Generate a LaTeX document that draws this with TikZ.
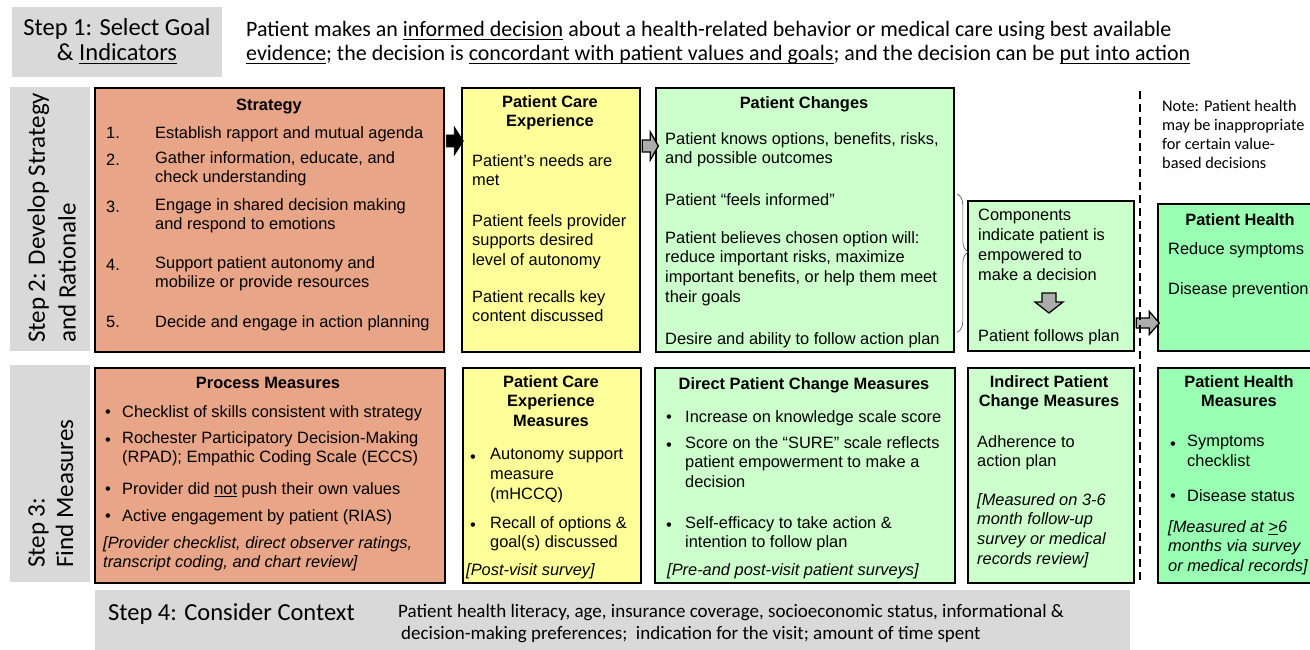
\documentclass[tikz,border=0pt]{standalone}
\usepackage{fontspec}
\setmainfont{Liberation Sans}
\newfontfamily\calfont{Carlito}
\usetikzlibrary{calc,decorations.pathreplacing}

\definecolor{stratfill}{RGB}{233,165,135}
\definecolor{carefill}{RGB}{255,255,153}
\definecolor{changefill}{RGB}{204,255,204}
\definecolor{healthfill}{RGB}{153,255,178}
\definecolor{stepgray}{RGB}{217,217,217}
\definecolor{arrowgray}{RGB}{172,172,172}

\newcommand\boxfont{\fontsize{16.4}{19.8}\selectfont}
\newcommand\steptitlefont{\calfont\fontsize{24.5}{25}\selectfont}
\newcommand\goalfont{\calfont\fontsize{21.95}{24}\selectfont}
\newcommand\notefont{\calfont\fontsize{16.3}{19}\selectfont}
\newcommand\ctxfont{\calfont\fontsize{19}{22}\selectfont}

% underline at a fixed depth below the baseline
\newsavebox\ulbox
\newcommand\ulx[1]{\sbox\ulbox{#1}\leavevmode\rlap{\rule[-0.15em]{\wd\ulbox}{0.065em}}\usebox\ulbox}

% horizontal block arrow: style, tail centre, half shaft, half head, shaft length, head length
\newcommand\rblock[6]{\draw[#1] (#2) ++(0,-#3) -- ++(#5,0) -- ++(0,{#3-#4}) -- ++(#6,#4) -- ++(-#6,#4) -- ++(0,{#3-#4}) -- ++(-#5,0) -- cycle;}
% downward block arrow: style, tail centre, half shaft, half head, shaft length, head length
\newcommand\dblock[6]{\draw[#1] (#2) ++(-#3,0) -- ++(0,#5) -- ++({#3-#4},0) -- ++(#4,#6) -- ++(#4,-#6) -- ++({#3-#4},0) -- ++(0,-#5) -- cycle;}

\begin{document}
\begin{tikzpicture}[x=1pt,y=-1pt,
  box/.style={draw=black, line width=2.3pt, anchor=north west, inner sep=0pt},
  stepbg/.style={fill=stepgray, draw=none, anchor=north west, inner sep=0pt},
  para/.style={anchor=north west, inner sep=0pt, align=left, font=\boxfont, execute at begin node=\strut, yshift=11.9pt},
  ipara/.style={para, font=\boxfont\itshape},
  ttl/.style={anchor=north, inner sep=0pt, align=center, font=\boxfont\bfseries, execute at begin node=\strut, yshift=12.9pt},
  steprot/.style={rotate=90, anchor=base west, inner sep=0pt, font=\calfont\fontsize{25}{30}\selectfont},
  gblock/.style={fill=arrowgray, draw=black, line width=1.3pt, line join=miter},
  kblock/.style={fill=black, draw=black, line width=0.8pt, line join=miter},
  bracestyle/.style={decorate, decoration={brace, amplitude=11pt, aspect=0.42}, draw=black!70, line width=0.6pt},
  divider/.style={draw=black, line width=2pt, dash pattern=on 8pt off 5pt}
]
\path[use as bounding box] (0,0) rectangle (1310,650);

% ---------- step labels ----------
\node[stepbg, minimum width=210pt, minimum height=70pt] (s1) at (12,7) {};
\node[stepbg, minimum width=80pt, minimum height=264pt] (s2) at (10,87) {};
\node[stepbg, minimum width=80pt, minimum height=217pt] (s3) at (10,365) {};
\node[stepbg, minimum width=1035pt, minimum height=62pt] (s4) at (95,590) {};

\node[anchor=north, inner sep=0pt, align=center, font=\steptitlefont, execute at begin node=\strut, yshift=17.5pt] (s1t) at (117,36) {Step 1: Select Goal\\\& \ulx{Indicators}};
\node[anchor=north west, inner sep=0pt, align=left, font=\goalfont, execute at begin node=\strut, yshift=15.8pt] (goal) at (246,37)
  {Patient makes an \ulx{informed decision} about a health-related behavior or medical care using best available\\\ulx{evidence}; the decision is \ulx{concordant with patient values and goals}; and the decision can be \ulx{put into action}};

\node[steprot] (s2a) at (45,343) {Step 2: Develop Strategy};
\node[steprot] (s2b) at (75.5,343) {and Rationale};
\node[steprot] (s3a) at (44.5,568) {Step 3:};
\node[steprot] (s3b) at (73,568) {Find Measures};

\node[anchor=base west, inner sep=0pt, font=\calfont\fontsize{24.5}{27}\selectfont] (s4t) at (108,620) {Step 4: Consider Context};
\node[anchor=north west, inner sep=0pt, align=left, font=\ctxfont, execute at begin node=\strut, yshift=15.4pt] (ctx) at (398,620)
  {Patient health literacy, age, insurance coverage, socioeconomic status, informational \&\\\hspace*{3pt}decision-making preferences;\ \ indication for the visit; amount of time spent};

% ---------- boxes ----------
\node[box, fill=stratfill, minimum width=349pt, minimum height=264pt] (strategy) at (94,87) {};
\node[box, fill=carefill, minimum width=178pt, minimum height=264pt] (pce) at (461,87) {};
\node[box, fill=changefill, minimum width=298pt, minimum height=264pt] (changes) at (655,87) {};
\node[box, fill=changefill, minimum width=166pt, minimum height=150pt] (comp) at (967,200) {};
\node[box, fill=healthfill, minimum width=175pt, minimum height=147pt] (health) at (1157,203) {};

\node[box, fill=stratfill, minimum width=350pt, minimum height=215pt] (process) at (94,367) {};
\node[box, fill=carefill, minimum width=178pt, minimum height=215pt] (pcem) at (462,367) {};
\node[box, fill=changefill, minimum width=300pt, minimum height=215pt] (direct) at (654,367) {};
\node[box, fill=changefill, minimum width=166pt, minimum height=215pt] (indirect) at (967,367) {};
\node[box, fill=healthfill, minimum width=175pt, minimum height=215pt] (healthm) at (1157,367) {};

% ---------- strategy ----------
\node[ttl] (strt) at (269,109) {Strategy};
\node[para] (n1) at (106,136) {1.};
\node[para] (t1) at (155,136) {Establish rapport and mutual agenda};
\node[para] (n2) at (106,163) {2.};
\node[para] (t2) at (155,163) {Gather information, educate, and\\check understanding};
\node[para] (n3) at (106,210) {3.};
\node[para] (t3) at (155,210) {Engage in shared decision making\\and respond to emotions};
\node[para] (n4) at (106,268) {4.};
\node[para] (t4) at (155,268) {Support patient autonomy and\\mobilize or provide resources};
\node[para] (n5) at (106,325) {5.};
\node[para] (t5) at (155,325) {Decide and engage in action planning};

% ---------- patient care experience ----------
\node[ttl] (pcet) at (550,108) {Patient Care\\Experience};
\node[para] (pce1) at (472,166) {Patient’s needs are\\met};
\node[para] (pce2) at (472,226) {Patient feels provider\\supports desired\\level of autonomy};
\node[para] (pce3) at (472,302) {Patient recalls key\\content discussed};

% ---------- patient changes ----------
\node[ttl] (cht) at (804,107) {Patient Changes};
\node[para] (ch1) at (665,144) {Patient knows options, benefits, risks,\\and possible outcomes};
\node[para] (ch2) at (665,203) {Patient “feels informed”};
\node[para] (ch3) at (665,243) {Patient believes chosen option will:\\reduce important risks, maximize\\important benefits, or help them meet\\their goals};
\node[para] (ch4) at (665,342) {Desire and ability to follow action plan};

% ---------- components ----------
\node[para] (cp1) at (978,221) {Components\\indicate patient is\\empowered to\\make a decision};
\node[para] (cp2) at (978,339) {Patient follows plan};

% ---------- patient health ----------
\node[ttl] (pht) at (1240,224) {Patient Health};
\node[para] (ph1) at (1168,252) {Reduce symptoms};
\node[para] (ph2) at (1168,292) {Disease prevention};

\node[anchor=north west, inner sep=0pt, align=left, font=\notefont, execute at begin node=\strut, yshift=11.5pt] (note) at (1162,111)
  {Note: Patient health\\may be inappropriate\\for certain value-\\based decisions};

% ---------- process measures ----------
\node[ttl] (prt) at (268,387) {Process Measures};
\node[para] (pb1) at (105,415) {•};
\node[para] (pm1) at (122,415) {Checklist of skills consistent with strategy};
\node[para] (pb2) at (105,443) {•};
\node[para] (pm2) at (122,443) {Rochester Participatory Decision-Making\\(RPAD); Empathic Coding Scale (ECCS)};
\node[para] (pb3) at (105,492) {•};
\node[para] (pm3) at (122,492) {Provider did \ulx{not} push their own values};
\node[para] (pb4) at (105,519) {•};
\node[para] (pm4) at (122,519) {Active engagement by patient (RIAS)};
\node[ipara] (pm5) at (103,548) {[Provider checklist, direct observer ratings,\\transcript coding, and chart review]};

% ---------- patient care experience measures ----------
\node[ttl] (pcmt) at (551,388) {Patient Care\\Experience\\Measures};
\node[para] (qb1) at (470,460) {•};
\node[para] (qm1) at (490,460) {Autonomy support\\measure\\(mHCCQ)};
\node[para] (qb2) at (470,528) {•};
\node[para] (qm2) at (490,528) {Recall of options \&\\goal(s) discussed};
\node[ipara] (qm3) at (466,573) {[Post-visit survey]};

% ---------- direct patient change measures ----------
\node[ttl] (dt) at (804,388) {Direct Patient Change Measures};
\node[para] (db1) at (666,420) {•};
\node[para] (dm1) at (685,420) {Increase on knowledge scale score};
\node[para] (db2) at (666,448) {•};
\node[para] (dm2) at (685,448) {Score on the “SURE” scale reflects\\patient empowerment to make a\\decision};
\node[para] (db3) at (666,528) {•};
\node[para] (dm3) at (685,528) {Self-efficacy to take action \&\\intention to follow plan};
\node[ipara] (dm4) at (667,573) {[Pre-and post-visit patient surveys]};

% ---------- indirect patient change measures ----------
\node[ttl] (it) at (1049,388) {Indirect Patient\\Change Measures};
\node[para] (im1) at (977,447) {Adherence to\\action plan};
\node[ipara] (im2) at (977,505) {[Measured on 3-6\\month follow-up\\survey or medical\\records review]};

% ---------- patient health measures ----------
\node[ttl] (hmt) at (1239,388) {Patient Health\\Measures};
\node[para] (hb1) at (1170,447) {•};
\node[para] (hm1) at (1187,447) {Symptoms\\checklist};
\node[para] (hb2) at (1170,499) {•};
\node[para] (hm2) at (1187,499) {Disease status};
\node[ipara] (hm3) at (1168,532) {[Measured at \ulx{>}6\\months via survey\\or medical records]};

% ---------- connectors ----------
\coordinate (a1) at ($(strategy.north east)+(1,54)$);
\rblock{kblock}{a1}{6}{14}{8}{9}
\coordinate (a2) at ($(pce.north east)+(1,59)$);
\rblock{gblock}{a2}{6}{14}{8}{8}
\coordinate (a3) at ($(comp.north west)+(82,93)$);
\dblock{gblock}{a3}{7}{14}{9}{11}
\coordinate (a4) at ($(comp.north east)+(1,123)$);
\rblock{gblock}{a4}{5}{11.5}{13}{10}

\draw[bracestyle] ($(changes.north east)+(2,107)$) -- ($(changes.south east)+(2,-21)$);

\coordinate (dtop) at (1140,91);
\coordinate (dbot) at (1140,584);
\draw[divider] (dtop) -- (dbot);
\end{tikzpicture}
\end{document}
